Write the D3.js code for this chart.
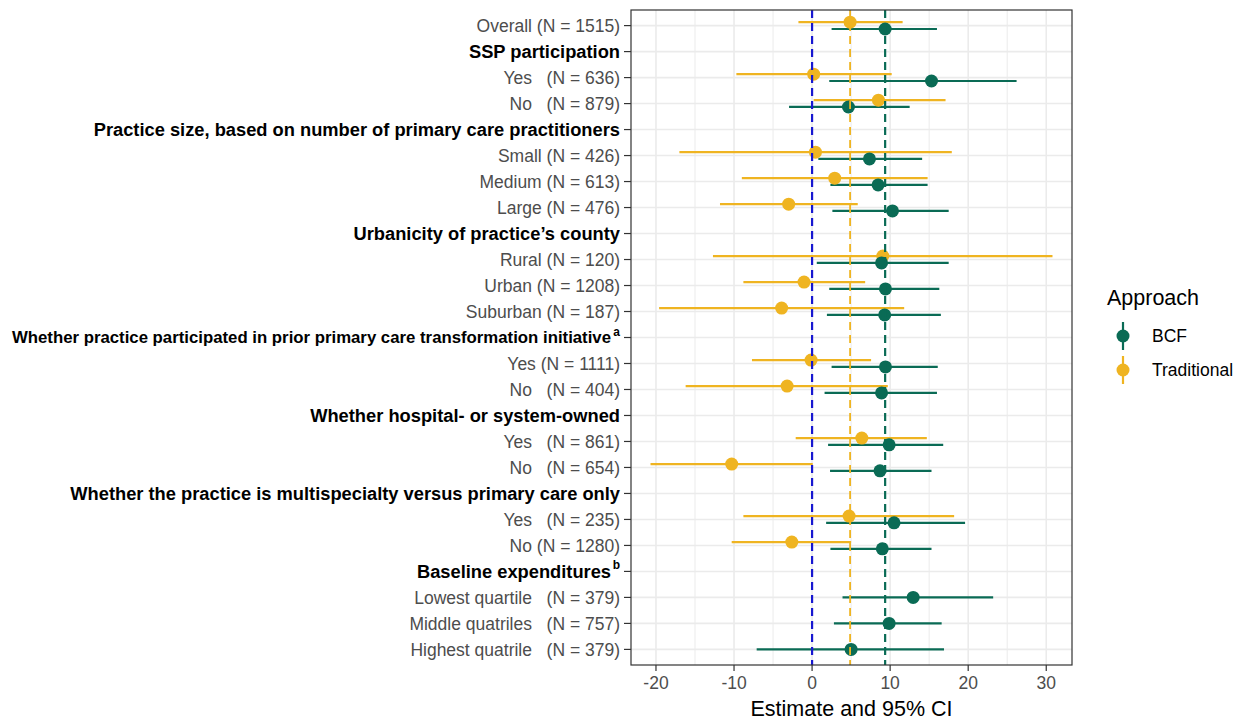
<!DOCTYPE html>
<html lang="en">
<head>
<meta charset="utf-8" />
<title>Estimate and 95% CI by practice characteristics</title>
<style>
  body { margin: 0; background: #fff; }
  svg text { font-family: "Liberation Sans", Arial, Helvetica, sans-serif; }
  .ylab { font-size: 17.5px; fill: #4d4d4d; white-space: pre; }
  .ylab.head { font-weight: bold; fill: #000; font-size: 18.3px; }
  .sup { font-weight: bold; fill: #000; font-size: 12px; }
  .xtick { font-size: 17.5px; fill: #4d4d4d; text-anchor: middle; }
  .grid line { stroke: #ebebeb; }
</style>
</head>
<body>
<div id="chart"></div>
<script src="https://d3js.org/d3.v7.min.js"></script>
<script>
// row labels, top to bottom
var labels = [
  "Overall (N = 1515)",
  "SSP participation",
  "Yes   (N = 636)",
  "No   (N = 879)",
  "Practice size, based on number of primary care practitioners",
  "Small (N = 426)",
  "Medium (N = 613)",
  "Large (N = 476)",
  "Urbanicity of practice\u2019s county",
  "Rural (N = 120)",
  "Urban (N = 1208)",
  "Suburban (N = 187)",
  "Whether practice participated in prior primary care transformation initiative",
  "Yes (N = 1111)",
  "No   (N = 404)",
  "Whether hospital- or system-owned",
  "Yes   (N = 861)",
  "No   (N = 654)",
  "Whether the practice is multispecialty versus primary care only",
  "Yes   (N = 235)",
  "No (N = 1280)",
  "Baseline expenditures",
  "Lowest quartile   (N = 379)",
  "Middle quatriles   (N = 757)",
  "Highest quatrile   (N = 379)"
];
var headerRows = [1, 4, 8, 12, 15, 18, 21];
var footnotes = {12: "a", 21: "b"};

// BCF approach
var bcfEst = [9.36, null, 15.3, 4.66, null, 7.35, 8.46, 10.3, null, 8.9, 9.4, 9.3, null, 9.4, 8.9, null, 9.87, 8.7, null, 10.5, 9.0, null, 12.95, 9.87, 5.0];
var bcfLo  = [2.5, null, 2.2, -2.95, null, 0.8, 2.35, 2.6, null, 0.6, 2.2, 1.9, null, 2.5, 1.6, null, 2.05, 2.3, null, 1.8, 2.35, null, 3.9, 2.8, -7.1];
var bcfHi  = [16.0, null, 26.2, 12.5, null, 14.1, 14.8, 17.5, null, 17.5, 16.3, 16.5, null, 16.1, 16.0, null, 16.8, 15.3, null, 19.6, 15.3, null, 23.2, 16.6, 16.9];

// Traditional approach (no estimates for baseline expenditure groups)
var tradEst = [4.87, null, 0.2, 8.5, null, 0.43, 2.9, -3.0, null, 9.06, -1.03, -3.9, null, -0.13, -3.2, null, 6.37, -10.3, null, 4.74, -2.6, null, null, null, null];
var tradLo  = [-1.75, null, -9.7, 0.2, null, -17.0, -9.0, -11.8, null, -12.7, -8.8, -19.6, null, -7.7, -16.2, null, -2.1, -20.7, null, -8.8, -10.3, null, null, null, null];
var tradHi  = [11.6, null, 10.2, 17.1, null, 17.9, 14.8, 5.85, null, 30.8, 6.8, 11.8, null, 7.56, 9.7, null, 14.7, 0.08, null, 18.2, 5.0, null, null, null, null];

var xTicks = [-20, -10, 0, 10, 20, 30];
var xMinor = [-15, -5, 5, 15, 25];

var approaches = ["BCF", "Traditional"];
var colors = {BCF: "#0a6b55", Traditional: "#efb421"};

var width = 1244, height = 721;
var panel = {left: 631, right: 1072, top: 10, bottom: 665};

var svg = d3.select("#chart")
  .append("svg")
  .attr("width", width)
  .attr("height", height)
  .style("background", "#fff");

var x = d3.scaleLinear().domain([-23.2, 33.3]).range([panel.left, panel.right]);
var y = d3.scalePoint().domain(d3.range(labels.length)).range([panel.top, panel.bottom]).padding(0.6);

// grid
var grid = svg.append("g").attr("class", "grid");
grid.selectAll(".minor").data(xMinor).enter().append("line")
  .attr("x1", function(d) { return x(d); }).attr("x2", function(d) { return x(d); })
  .attr("y1", panel.top).attr("y2", panel.bottom)
  .attr("stroke-width", 1);
grid.selectAll(".major").data(xTicks).enter().append("line")
  .attr("x1", function(d) { return x(d); }).attr("x2", function(d) { return x(d); })
  .attr("y1", panel.top).attr("y2", panel.bottom)
  .attr("stroke-width", 1.6);
grid.selectAll(".hrow").data(labels).enter().append("line")
  .attr("x1", panel.left).attr("x2", panel.right)
  .attr("y1", function(d, i) { return y(i); }).attr("y2", function(d, i) { return y(i); })
  .attr("stroke-width", 1.6);

// build rows of point ranges, dodged when both approaches present
var rows = [];
labels.forEach(function(l, i) {
  var present = [];
  if (tradEst[i] != null) present.push({approach: "Traditional", est: tradEst[i], lo: tradLo[i], hi: tradHi[i]});
  if (bcfEst[i] != null) present.push({approach: "BCF", est: bcfEst[i], lo: bcfLo[i], hi: bcfHi[i]});
  present.forEach(function(p, k) {
    var off = present.length > 1 ? (k === 0 ? -3.4 : 3.4) : 0;
    p.y = y(i) + off;
    rows.push(p);
  });
});

var marks = svg.append("g");
marks.selectAll(".ci").data(rows).enter().append("line")
  .attr("x1", function(d) { return x(d.lo); })
  .attr("x2", function(d) { return x(d.hi); })
  .attr("y1", function(d) { return d.y; })
  .attr("y2", function(d) { return d.y; })
  .attr("stroke", function(d) { return colors[d.approach]; })
  .attr("stroke-width", 2.2);
marks.selectAll(".pt").data(rows).enter().append("circle")
  .attr("cx", function(d) { return x(d.est); })
  .attr("cy", function(d) { return d.y; })
  .attr("r", 6.5)
  .attr("fill", function(d) { return colors[d.approach]; });

// reference lines
var refs = [
  {v: 0, color: "#1717d0", w: 2.2},
  {v: tradEst[0], color: colors.Traditional, w: 1.8},
  {v: bcfEst[0], color: colors.BCF, w: 2.2}
];
svg.append("g").selectAll("line").data(refs).enter().append("line")
  .attr("x1", function(d) { return x(d.v); }).attr("x2", function(d) { return x(d.v); })
  .attr("y1", panel.top).attr("y2", panel.bottom)
  .attr("stroke", function(d) { return d.color; })
  .attr("stroke-width", function(d) { return d.w; })
  .attr("stroke-dasharray", "8,5");

// panel border
svg.append("rect")
  .attr("x", panel.left).attr("y", panel.top)
  .attr("width", panel.right - panel.left).attr("height", panel.bottom - panel.top)
  .attr("fill", "none").attr("stroke", "#333").attr("stroke-width", 1.2);

// y axis ticks and labels
var labelRight = panel.left - 11;
var yax = svg.append("g");
yax.selectAll("line").data(labels).enter().append("line")
  .attr("x1", panel.left - 7).attr("x2", panel.left)
  .attr("y1", function(d, i) { return y(i); }).attr("y2", function(d, i) { return y(i); })
  .attr("stroke", "#333").attr("stroke-width", 1.2);
var ylabs = yax.selectAll(".ylab").data(labels).enter().append("text")
  .attr("class", function(d, i) { return headerRows.indexOf(i) >= 0 ? "ylab head" : "ylab"; })
  .attr("x", function(d, i) { return footnotes[i] ? labelRight - 9 : labelRight; })
  .attr("y", function(d, i) { return y(i); })
  .attr("dy", "0.35em")
  .attr("text-anchor", "end")
  .text(function(d) { return d; });

// the longest header gets a slightly smaller size so it stays inside the page
ylabs.each(function() {
  var box = this.getBBox();
  if (box.x < 12) {
    var size = parseFloat(getComputedStyle(this).fontSize);
    var scale = (box.width - (12 - box.x)) / box.width;
    d3.select(this).style("font-size", (size * scale).toFixed(2) + "px");
  }
});

// footnote markers as their own small raised texts
yax.selectAll(".sup").data(Object.keys(footnotes)).enter().append("text")
  .attr("class", "sup")
  .attr("x", labelRight)
  .attr("y", function(k) { return y(+k) - 2; })
  .attr("text-anchor", "end")
  .text(function(k) { return footnotes[k]; });

// x axis
var xax = svg.append("g");
xax.selectAll("line").data(xTicks).enter().append("line")
  .attr("x1", function(d) { return x(d); }).attr("x2", function(d) { return x(d); })
  .attr("y1", panel.bottom).attr("y2", panel.bottom + 6)
  .attr("stroke", "#333").attr("stroke-width", 1.2);
xax.selectAll("text").data(xTicks).enter().append("text")
  .attr("class", "xtick")
  .attr("x", function(d) { return x(d); })
  .attr("y", 689)
  .text(function(d) { return d; });
svg.append("text")
  .attr("x", (panel.left + panel.right) / 2)
  .attr("y", 716)
  .attr("text-anchor", "middle")
  .attr("font-size", "21.5px")
  .attr("fill", "#000")
  .text("Estimate and 95% CI");

// legend
var legend = svg.append("g").attr("transform", "translate(1107,0)");
legend.append("text")
  .attr("x", 0).attr("y", 305)
  .attr("font-size", "21.5px")
  .text("Approach");
var keys = legend.selectAll(".key").data(approaches).enter().append("g")
  .attr("transform", function(d, i) { return "translate(16," + (336 + i * 34) + ")"; });
keys.append("line")
  .attr("x1", 0).attr("x2", 0).attr("y1", -14).attr("y2", 14)
  .attr("stroke", function(d) { return colors[d]; })
  .attr("stroke-width", 2.2);
keys.append("circle")
  .attr("r", 6.5)
  .attr("fill", function(d) { return colors[d]; });
keys.append("text")
  .attr("x", 29).attr("dy", "0.35em")
  .attr("font-size", "17.5px")
  .attr("fill", "#000")
  .text(function(d) { return d; });
</script>
</body>
</html>
